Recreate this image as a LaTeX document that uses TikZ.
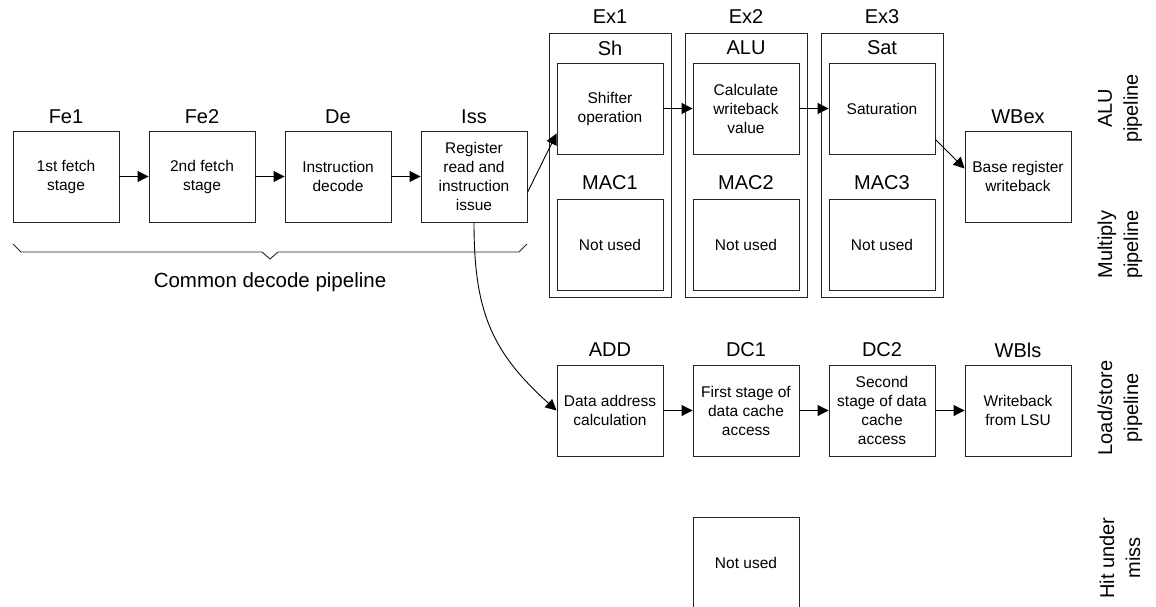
\documentclass[tikz,border=0pt]{standalone}
\usepackage{fontspec}
\setmainfont{Liberation Sans}
\usetikzlibrary{arrows.meta,calc}
\begin{document}
\begin{tikzpicture}[x=1pt,y=-1pt,
  stage/.style={draw=black!85,line width=0.9pt,minimum width=106pt,minimum height=91pt,inner sep=0pt,align=center,font=\fontsize{15.5}{19}\selectfont},
  outer/.style={draw=black!85,line width=0.9pt,minimum width=122pt,minimum height=264pt,inner sep=0pt},
  hdr/.style={inner sep=0pt,font=\fontsize{20}{24}\selectfont},
  side/.style={inner sep=0pt,rotate=90,align=center,font=\fontsize{20}{26}\selectfont},
  arr/.style={draw=black,line width=0.9pt,-{Triangle[length=11pt,width=11pt]}}]
\useasboundingbox (0,0) rectangle (1156,607);
% outer Ex boxes
\node[outer] (ex1box) at (610,165) {};
\node[outer] (ex2box) at (746,165) {};
\node[outer] (ex3box) at (882,165) {};
\node[hdr] (ex1) at (610,17) {Ex1};
\node[hdr] (ex2) at (746,17) {Ex2};
\node[hdr] (ex3) at (882,17) {Ex3};
% row 1
\node[stage] (fe1) at (66,176.5) {1st fetch\\stage};
\node[stage] (fe2) at (202,176.5) {2nd fetch\\stage};
\node[stage] (de) at (338,176.5) {Instruction\\decode};
\node[stage] (iss) at (474,176.5) {Register\\read and\\instruction\\issue};
\node[stage] (wbex) at (1018,176.5) {Base register\\writeback};
\node[hdr] (lfe1) at (66,117) {Fe1};
\node[hdr] (lfe2) at (202,117) {Fe2};
\node[hdr] (lde) at (338,117) {De};
\node[hdr] (liss) at (474,117) {Iss};
\node[hdr] (lwbex) at (1018,117) {WBex};
% ALU row
\node[stage] (sh) at (610,108.5) {Shifter\\operation};
\node[stage] (alu) at (746,108.5) {Calculate\\writeback\\value};
\node[stage] (sat) at (882,108.5) {Saturation};
\node[hdr] (lsh) at (610,48) {Sh};
\node[hdr] (lalu) at (746,48) {ALU};
\node[hdr] (lsat) at (882,48) {Sat};
% MAC row
\node[stage] (mac1) at (610,244.5) {Not used};
\node[stage] (mac2) at (746,244.5) {Not used};
\node[stage] (mac3) at (882,244.5) {Not used};
\node[hdr] (lmac1) at (610,183) {MAC1};
\node[hdr] (lmac2) at (746,183) {MAC2};
\node[hdr] (lmac3) at (882,183) {MAC3};
% load/store row
\node[stage] (add) at (610,410.5) {Data address\\calculation};
\node[stage] (dc1) at (746,410.5) {First stage of\\data cache\\access};
\node[stage] (dc2) at (882,410.5) {Second\\stage of data\\cache\\access};
\node[stage] (wbls) at (1018,410.5) {Writeback\\from LSU};
\node[hdr] (ladd) at (610,350) {ADD};
\node[hdr] (ldc1) at (746,350) {DC1};
\node[hdr] (ldc2) at (882,350) {DC2};
\node[hdr] (lwbls) at (1018,350) {WBls};
% hit under miss
\node[stage] (hum) at (746,562.5) {Not used};
% side labels
\node[side] (salu) at (1120,108.5) {ALU\\pipeline};
\node[side] (smul) at (1120,244.5) {Multiply\\pipeline};
\node[side] (sls) at (1120,408) {Load/store\\pipeline};
\node[side] (shum) at (1120,558) {Hit under\\miss};
% brace
\coordinate (bl) at (13,244);
\coordinate (br) at (527,244);
\draw[draw=black!85,line width=0.9pt] (bl) -- (21,252) -- (262,252) -- (270,259) -- (278,252) -- (519,252) -- (br);
\node[hdr,font=\fontsize{20.5}{24}\selectfont] (common) at (270,282) {Common decode pipeline};
% arrows
\draw[arr] (fe1) -- (fe2);
\draw[arr] (fe2) -- (de);
\draw[arr] (de) -- (iss);
\draw[arr] ([yshift=-16pt]iss.east) -- ([yshift=-25pt]sh.west);
\draw[arr] (sh) -- (alu);
\draw[arr] (alu) -- (sat);
\draw[arr] ([yshift=-31pt]sat.east) -- ([yshift=8pt]wbex.west);
\draw[arr] (add) -- (dc1);
\draw[arr] (dc1) -- (dc2);
\draw[arr] (dc2) -- (wbls);
\draw[arr] (iss.south) to[out=-90,in=138,looseness=1.1] (add.west);
\end{tikzpicture}
\end{document}
